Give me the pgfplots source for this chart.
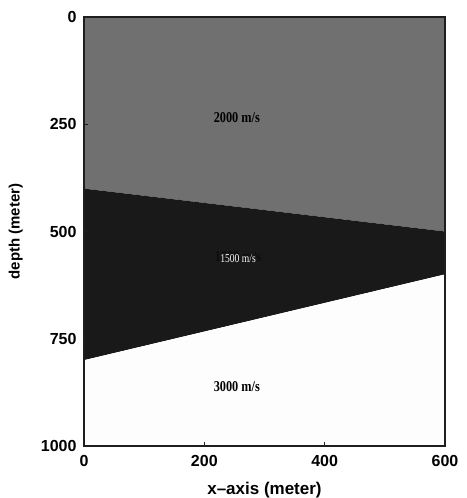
\documentclass[border=0pt]{standalone}
\usepackage{fontspec}
\setmainfont{Liberation Serif}
\setsansfont{Liberation Sans}
\usepackage{pgfplots}
\pgfplotsset{compat=1.18}
\definecolor{graylayer}{HTML}{707070}
\definecolor{blacklayer}{HTML}{191919}
\definecolor{whitelayer}{HTML}{FDFDFD}
\definecolor{axcol}{HTML}{1E1E1E}
\begin{document}
\begin{tikzpicture}
\begin{axis}[
  at={(0,0)}, anchor=south west,
  scale only axis, width=361pt, height=429pt,
  xmin=0, xmax=600, ymin=0, ymax=1000,
  y dir=reverse,
  xtick={0,200,400,600}, ytick={0,250,500,750,1000},
  tick pos=left, tick align=inside,
  major tick length=4pt,
  axis on top,
  axis line style={line width=1.2pt, axcol},
  every tick/.style={line width=0.8pt, axcol},
  /pgf/number format/assume math mode=true,
  /pgf/number format/1000 sep={},
  tick label style={font=\fontsize{16}{16}\selectfont\sffamily\bfseries},
  xticklabel style={yshift=-6pt},
  yticklabel style={xshift=-4pt},
  xlabel={x--axis (meter)},
  ylabel={depth (meter)},
  xlabel style={font=\fontsize{17}{17}\selectfont\sffamily\bfseries, at={(axis description cs:0.5,-0.1026)}, anchor=center},
  ylabel style={font=\fontsize{15}{15}\selectfont\sffamily\bfseries, at={(axis description cs:-0.189,0.5)}, anchor=center},
]
\addplot[fill=graylayer, draw=none] coordinates {(0,0) (600,0) (600,500) (0,400)} -- cycle;
\addplot[fill=blacklayer, draw=none] coordinates {(0,400) (600,500) (600,600) (0,800)} -- cycle;
\addplot[fill=whitelayer, draw=none] coordinates {(0,800) (600,600) (600,1000) (0,1000)} -- cycle;
\node[font=\fontsize{15}{15}\selectfont\bfseries, xscale=0.82] at (axis cs:254,235) {2000 m/s};
\node[font=\fontsize{15}{15}\selectfont\bfseries, xscale=0.82, text=black!95] at (axis cs:256,559) {1500 m/s};
\node[font=\fontsize{12}{12}\selectfont, xscale=0.8, text=white] at (axis cs:256,562) {1500 m/s};
\node[font=\fontsize{15}{15}\selectfont\bfseries, xscale=0.82] at (axis cs:254,862) {3000 m/s};
\end{axis}
\pgfresetboundingbox
\path (-84pt,-52pt) rectangle (382pt,446pt);
\end{tikzpicture}
\end{document}
